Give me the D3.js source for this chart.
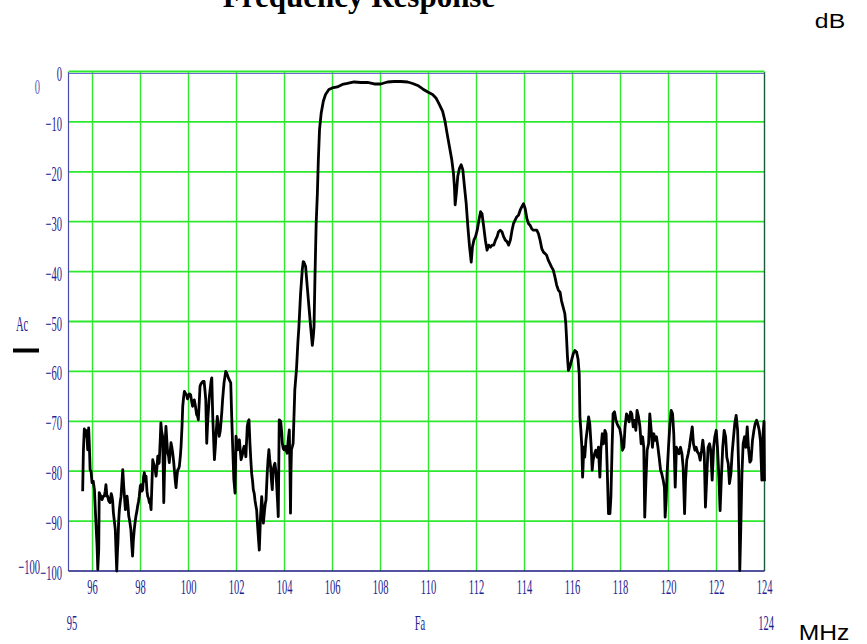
<!DOCTYPE html>
<html>
<head>
<meta charset="utf-8">
<script src="https://cdn.jsdelivr.net/npm/d3@7"></script>
<style>
  body { margin: 0; background: #fff; }
  svg { display: block; }
</style>
</head>
<body>
<svg id="chart" width="867" height="644"></svg>
<script>
// frequency response data, [MHz, dB]
const lowBand = [[95.59,-84],[95.62,-76],[95.66,-71.5],[95.69,-73],[95.72,-71.8],[95.76,-72],[95.8,-75.7],[95.84,-71.3],[95.87,-75],[95.9,-79.7],[95.94,-80],[95.98,-82.3],[96.03,-82],[96.08,-83.7],[96.12,-88],[96.15,-91],[96.19,-95],[96.22,-99.7],[96.26,-95.7],[96.28,-84.3],[96.34,-85],[96.4,-85.7],[96.45,-85],[96.49,-85],[96.53,-84],[96.56,-82.7],[96.6,-85],[96.63,-85],[96.68,-86],[96.73,-86.3],[96.78,-84.5],[96.81,-85],[96.84,-86],[96.87,-88.3],[96.91,-90],[96.95,-91.7],[96.98,-96],[97.01,-100],[97.04,-96],[97.06,-94.3],[97.09,-90],[97.12,-87.7],[97.16,-86],[97.19,-85],[97.23,-82],[97.26,-79.7],[97.3,-83],[97.33,-85],[97.37,-87.7],[97.4,-86],[97.44,-85],[97.48,-87],[97.51,-89],[97.55,-90],[97.6,-91.7],[97.64,-95],[97.67,-97],[97.7,-94],[97.74,-91.7],[97.78,-90],[97.81,-89],[97.85,-88],[97.88,-87],[97.92,-86],[97.95,-85],[97.99,-83],[98.02,-82.7],[98.06,-84],[98.09,-83.7],[98.13,-81],[98.16,-80.3],[98.2,-82],[98.23,-81],[98.27,-84],[98.3,-85],[98.34,-85.5],[98.37,-86.3],[98.41,-86.5],[98.44,-87.7],[98.48,-82],[98.51,-77.7],[98.55,-78.5],[98.58,-79],[98.62,-80],[98.65,-81],[98.69,-79],[98.72,-77],[98.75,-78.5],[98.78,-78.3],[98.82,-74],[98.85,-70.3],[98.88,-72],[98.92,-73],[98.95,-80],[98.97,-86.3],[99.0,-80],[99.02,-76.3],[99.04,-73],[99.06,-71],[99.1,-74],[99.13,-76.3],[99.17,-77],[99.2,-78.3],[99.24,-76],[99.27,-74.3],[99.3,-75],[99.34,-76.3],[99.38,-78],[99.41,-79.7],[99.45,-82],[99.48,-83.3],[99.52,-81],[99.55,-79.7],[99.59,-79.5],[99.62,-79],[99.66,-77],[99.69,-75],[99.73,-71],[99.76,-67],[99.8,-65],[99.83,-64],[99.86,-64.3],[99.92,-64.7],[99.96,-65.5]];

const midBand = [[99.99,-65],[100.04,-64.5],[100.09,-64.7],[100.13,-66],[100.17,-67],[100.21,-66],[100.24,-65.7],[100.29,-67],[100.34,-68.7],[100.38,-69],[100.41,-69.7],[100.45,-66],[100.48,-63],[100.52,-62.5],[100.55,-62.3],[100.6,-62],[100.65,-62],[100.69,-64],[100.72,-65.7],[100.74,-70],[100.76,-74.4],[100.8,-70],[100.83,-67.7],[100.87,-65],[100.9,-63.7],[100.94,-62],[100.97,-61.3],[101.01,-69],[101.05,-74],[101.08,-77.7],[101.12,-75],[101.15,-72.4],[101.2,-69],[101.24,-71],[101.28,-73],[101.32,-72],[101.35,-70.4],[101.39,-68],[101.42,-65.7],[101.45,-64],[101.48,-62.3],[101.52,-61],[101.55,-60],[101.59,-60.3],[101.62,-60.7],[101.66,-61.3],[101.7,-61.7],[101.73,-62],[101.76,-62.3],[101.8,-69],[101.84,-75],[101.89,-81.7],[101.94,-84.4],[101.98,-73],[102.02,-74.5],[102.05,-75.7],[102.09,-74.5],[102.12,-73.7],[102.16,-76],[102.19,-77.7],[102.23,-77],[102.26,-76.4],[102.29,-75.5],[102.32,-75],[102.36,-76],[102.39,-77.1],[102.42,-74],[102.45,-71],[102.49,-70],[102.52,-69.7],[102.56,-74.4],[102.6,-78],[102.63,-80.4],[102.67,-82],[102.7,-83.7],[102.74,-84.5],[102.77,-85.8],[102.81,-87],[102.84,-87.8],[102.88,-91],[102.91,-93.1],[102.95,-95.8],[103.0,-89.1],[103.05,-85.1],[103.09,-88],[103.12,-90.4],[103.17,-87.8],[103.2,-86.5],[103.23,-85.8],[103.28,-80.4],[103.31,-78],[103.35,-75.7],[103.38,-77.5],[103.42,-79.1],[103.46,-82],[103.49,-83.7],[103.53,-79.7],[103.56,-79],[103.6,-78.4],[103.64,-80],[103.67,-82.4],[103.71,-86],[103.74,-89.1],[103.76,-80],[103.78,-69.7],[103.84,-70],[103.88,-72],[103.91,-74.4],[103.95,-75.5],[103.98,-75.7],[104.04,-75],[104.08,-76],[104.11,-76.4],[104.15,-74],[104.2,-71.7],[104.23,-80],[104.25,-88.4],[104.27,-80],[104.29,-75.7],[104.33,-75],[104.36,-74.4]];

const passBand = [[104.43,-63.7],[104.5,-59.5],[104.56,-54],[104.6,-51.1],[104.67,-44.4],[104.74,-39.7],[104.78,-38],[104.81,-38.1],[104.88,-39],[104.95,-43.1],[105.02,-47.1],[105.09,-51.1],[105.16,-54.8],[105.2,-53],[105.23,-51.1],[105.27,-41],[105.32,-30.3],[105.37,-24.3],[105.41,-17.6],[105.46,-11.5],[105.53,-8.2],[105.62,-5.8],[105.71,-4.5],[105.85,-3.5],[105.99,-3.2],[106.2,-3.0],[106.41,-2.5],[106.62,-2.3],[106.9,-2.0],[107.18,-2.1],[107.46,-2.1],[107.74,-2.4],[108.01,-2.4],[108.29,-2.0],[108.57,-1.9],[108.85,-1.9],[109.13,-2.0],[109.34,-2.3],[109.55,-2.7],[109.76,-3.4],[109.97,-4.0],[110.17,-4.5],[110.31,-5.2],[110.45,-6.5],[110.59,-7.9],[110.69,-9.9],[110.77,-12.2],[110.87,-14.9],[110.97,-17.6],[111.04,-20.3],[111.08,-23],[111.11,-26.6],[111.16,-24.3],[111.22,-20.9],[111.29,-19.3],[111.36,-18.6],[111.43,-19.6],[111.5,-23],[111.57,-26.3],[111.64,-31],[111.71,-35],[111.78,-38.1]];

const upperSkirt = [[111.83,-35.1],[111.89,-33.7],[111.96,-33],[112.03,-31.7],[112.1,-29.7],[112.17,-28],[112.23,-28.4],[112.3,-31],[112.37,-33.7],[112.44,-35.7],[112.51,-34.7],[112.58,-35.1],[112.65,-34.7],[112.72,-34.7],[112.79,-33.7],[112.86,-33],[112.92,-32],[112.99,-31.7],[113.06,-32],[113.13,-33],[113.2,-33.7],[113.27,-34],[113.34,-34.7],[113.41,-33.7],[113.48,-31.7],[113.54,-30.4],[113.61,-29.7],[113.68,-29],[113.75,-28.7],[113.82,-27.7],[113.89,-27],[113.96,-26.4],[114.03,-27.4],[114.1,-29.4],[114.17,-30.4],[114.23,-30.7],[114.3,-31.4],[114.37,-31.7],[114.44,-31.7],[114.51,-31.7],[114.58,-32.4],[114.65,-33.7],[114.72,-35.4],[114.79,-36.1],[114.86,-36.4],[114.92,-36.7],[114.99,-37.7],[115.06,-38.4],[115.13,-39.1],[115.2,-39.7],[115.27,-41.1],[115.34,-42.7],[115.41,-43.7],[115.48,-44.1],[115.54,-45.8],[115.61,-47.1],[115.68,-48.4],[115.72,-50.4],[115.75,-53.1],[115.79,-57.1],[115.83,-59.8],[115.89,-59.1],[115.96,-57.8],[116.03,-56.5],[116.1,-55.8],[116.17,-56.1],[116.23,-57.5],[116.28,-60.5]];

const highBand = [[116.31,-69.1],[116.35,-71.8],[116.39,-75.2],[116.42,-81.2],[116.44,-79.2],[116.47,-75.2],[116.51,-77.2],[116.56,-73.8],[116.61,-71.8],[116.67,-69.1],[116.72,-70.5],[116.78,-75.2],[116.82,-79.8],[116.86,-77.8],[116.92,-76.5],[116.97,-75.8],[117.03,-77.2],[117.08,-75.2],[117.14,-81.2],[117.18,-75.8],[117.24,-72.5],[117.29,-74.5],[117.35,-71.8],[117.4,-72.5],[117.44,-78.5],[117.5,-88.5],[117.56,-88.5],[117.6,-85.2],[117.65,-75.2],[117.69,-68.5],[117.75,-68.1],[117.81,-69.8],[117.86,-70.5],[117.92,-71.1],[117.97,-71.5],[118.03,-73.1],[118.08,-75.8],[118.14,-75.2],[118.19,-71.1],[118.25,-68.5],[118.31,-69.1],[118.36,-70.1],[118.42,-68.1],[118.47,-68.5],[118.53,-71.1],[118.58,-69.8],[118.64,-71.8],[118.69,-67.8],[118.75,-69.1],[118.81,-71.1],[118.86,-74.5],[118.92,-73.1],[118.97,-75.2],[119.01,-89.2],[119.06,-81.8],[119.11,-75.8],[119.17,-74.5],[119.22,-68.5],[119.28,-71.8],[119.33,-75.2],[119.39,-72.5],[119.44,-73.8],[119.5,-73.1],[119.56,-75.2],[119.61,-77.2],[119.67,-79.8],[119.72,-80.5],[119.78,-81.8],[119.83,-83.2],[119.86,-89.2],[119.9,-85.9],[119.94,-80.5],[120.0,-75.2],[120.06,-70.5],[120.11,-67.8],[120.17,-68.5],[120.22,-72.5],[120.28,-83.2],[120.33,-75.2],[120.39,-75.8],[120.44,-76.5],[120.5,-75.2],[120.56,-76.5],[120.61,-79.2],[120.67,-88.5],[120.71,-81.8],[120.76,-77.8],[120.82,-76.5],[120.87,-75.2],[120.93,-73.1],[120.99,-71.1],[121.04,-74.5],[121.1,-75.8],[121.15,-75.2],[121.21,-76.2],[121.26,-76.5],[121.32,-77.8],[121.38,-75.8],[121.43,-73.8],[121.49,-76.5],[121.54,-87.2],[121.6,-80.5],[121.65,-75.2],[121.71,-74.5],[121.76,-75.8],[121.82,-81.8],[121.88,-75.2],[121.93,-73.1],[121.99,-71.8],[122.04,-75.2],[122.1,-81.2],[122.15,-87.9],[122.21,-80.5],[122.26,-75.2],[122.32,-71.8],[122.38,-73.1],[122.43,-77.2],[122.49,-78.5],[122.54,-82.5],[122.6,-80.5],[122.65,-76.5],[122.71,-73.1],[122.76,-70.5],[122.82,-68.8],[122.88,-71.8],[122.93,-80.5],[122.97,-99.9],[123.01,-91.9],[123.06,-80.5],[123.11,-74.5],[123.17,-73.1],[123.22,-75.2],[123.28,-71.1],[123.33,-75.2],[123.39,-78.2],[123.44,-77.8],[123.5,-73.8],[123.56,-71.8],[123.61,-70.5],[123.67,-69.8],[123.72,-70.5],[123.78,-71.8],[123.83,-73.8],[123.89,-81.8],[123.94,-72.5],[123.98,-70],[124.0,-82]];

const xTicks = [96, 98, 100, 102, 104, 106, 108, 110, 112, 114, 116, 118, 120, 122, 124];
const yTicks = [0, -10, -20, -30, -40, -50, -60, -70, -80, -90, -100];

const svg = d3.select('#chart');
const plotLeft = 68.5, plotRight = 764.5, plotTop = 72, plotBottom = 571;
const navy = '#23238f';
const green = '#2ee82e';

const x = d3.scaleLinear().domain([95, 124]).range([plotLeft, plotRight]);
const y = d3.scaleLinear().domain([-100, 0]).range([plotBottom, plotTop]);

// condensed serif text like the original plot software
function narrow(g, tx, ty, str, anchor, color, size, sx) {
    return g.append('text')
        .attr('transform', `translate(${tx},${ty}) scale(${sx || 0.5},1)`)
        .attr('text-anchor', anchor)
        .attr('font-family', 'Liberation Serif, serif')
        .attr('font-size', size || 21)
        .attr('fill', color || navy)
        .text(str);
}

// grid
const grid = svg.append('g');
grid.selectAll('line.v')
    .data(xTicks.filter(d => d < 124))
    .enter().append('line')
    .attr('x1', d => x(d)).attr('x2', d => x(d))
    .attr('y1', plotTop).attr('y2', plotBottom)
    .attr('stroke', green).attr('stroke-width', 1.4);
grid.selectAll('line.h')
    .data(yTicks.filter(d => d > -100 && d < 0))
    .enter().append('line')
    .attr('x1', plotLeft).attr('x2', plotRight)
    .attr('y1', d => y(d)).attr('y2', d => y(d))
    .attr('stroke', green).attr('stroke-width', 1.8);

// frame
svg.append('line').attr('x1', plotLeft).attr('x2', plotLeft).attr('y1', plotTop).attr('y2', plotBottom)
    .attr('stroke', '#4a4aa8').attr('stroke-width', 1.2);
svg.append('line').attr('x1', plotRight).attr('x2', plotRight).attr('y1', plotTop).attr('y2', plotBottom)
    .attr('stroke', '#1c5a3c').attr('stroke-width', 1.4);
svg.append('line').attr('x1', plotLeft).attr('x2', plotRight).attr('y1', plotTop + 1.5).attr('y2', plotTop + 1.5)
    .attr('stroke', '#6a6ad0').attr('stroke-width', 1);
svg.append('line').attr('x1', plotLeft).attr('x2', plotRight).attr('y1', plotTop - 0.5).attr('y2', plotTop - 0.5)
    .attr('stroke', green).attr('stroke-width', 2.2);
svg.append('line').attr('x1', plotLeft).attr('x2', plotRight).attr('y1', plotBottom).attr('y2', plotBottom)
    .attr('stroke', '#1a1a80').attr('stroke-width', 1.6);

// curve
const line = d3.line().x(d => x(d[0])).y(d => y(d[1]));
const trace = lowBand.concat(midBand, passBand, upperSkirt, highBand);
svg.append('path')
    .datum(trace)
    .attr('d', line)
    .attr('fill', 'none')
    .attr('stroke', '#000')
    .attr('stroke-width', 2.8)
    .attr('stroke-linejoin', 'round');

// tick labels
const labels = svg.append('g');
yTicks.forEach(v => narrow(labels, 62, y(v) + 9, String(v).replace('-', '\u2212'), 'end'));
xTicks.forEach(v => narrow(labels, x(v), 594, String(v), 'middle'));

// extra range labels
narrow(labels, 40, 94, '0', 'end', '#5a5ab8');
narrow(labels, 40, 574, '\u2212100', 'end');
narrow(labels, 72, 630, '95', 'middle');
narrow(labels, 766, 630, '124', 'middle');
narrow(labels, 420, 630, 'Fa', 'middle');

// series legend
narrow(labels, 22, 331, 'Ac', 'middle');
svg.append('line').attr('x1', 13).attr('x2', 39).attr('y1', 350.5).attr('y2', 350.5)
    .attr('stroke', '#000').attr('stroke-width', 4);

// title and units
svg.append('text')
    .attr('x', 359).attr('y', 7)
    .attr('text-anchor', 'middle')
    .attr('font-family', 'Liberation Serif, serif')
    .attr('font-weight', 'bold')
    .attr('font-size', 31)
    .text('Frequency Response');
svg.append('text')
    .attr('transform', 'translate(830,28) scale(1.18,1)')
    .attr('text-anchor', 'middle')
    .attr('font-family', 'Liberation Sans, Arial, sans-serif')
    .attr('font-size', 21)
    .text('dB');
svg.append('text')
    .attr('transform', 'translate(824,640) scale(1.12,1)')
    .attr('text-anchor', 'middle')
    .attr('font-family', 'Liberation Sans, Arial, sans-serif')
    .attr('font-size', 22)
    .text('MHz');
</script>
</body>
</html>
